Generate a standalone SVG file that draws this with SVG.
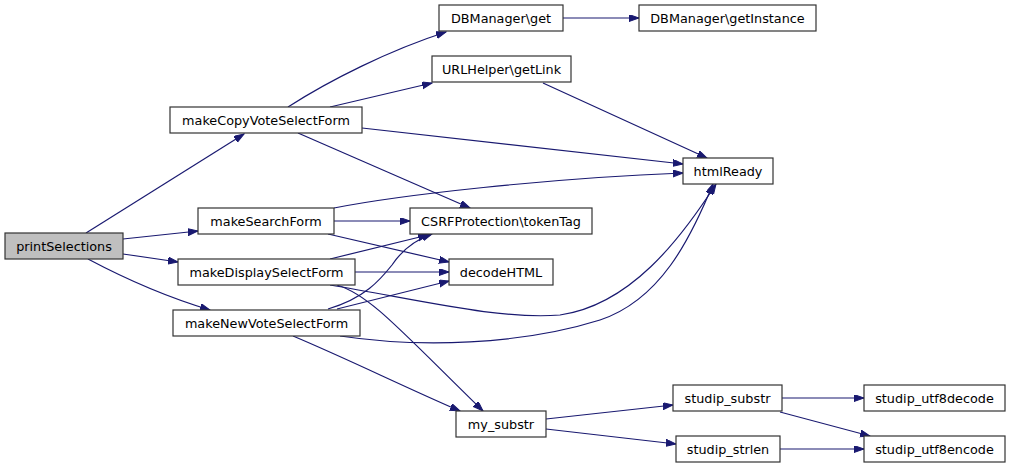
<svg xmlns="http://www.w3.org/2000/svg" width="1011" height="468" viewBox="0 0 1011 468">
<style>
.n rect{fill:#ffffff;stroke:#333333;stroke-width:1.2}
.n.root rect{fill:#bfbfbf}
.n text{font-family:"DejaVu Sans",sans-serif;font-size:12.8px;fill:#000000;text-anchor:middle}
#edges path{fill:none;stroke:#191970;stroke-width:1.2;marker-end:url(#arr)}
</style>
<defs>
<marker id="arr" markerUnits="userSpaceOnUse" markerWidth="11" markerHeight="8" refX="10" refY="3.5" orient="auto">
<path d="M0,0 L10,3.5 L0,7 z" fill="#191970" stroke="#191970" stroke-width="1"/>
</marker>
</defs>
<rect width="1011" height="468" fill="#ffffff"/>
<g id="edges">
<path d="M86,233 L244,134"/>
<path d="M123,239 L198,231"/>
<path d="M123,254 L178,262"/>
<path d="M88,259 C120,276 160,295 210,310"/>
<path d="M288,107 C330,80 390,50 446,32"/>
<path d="M330,107 L432,83"/>
<path d="M362,128 L683,164"/>
<path d="M298,133 L470,208"/>
<path d="M543,83 L707,158"/>
<path d="M563,18 L639,18"/>
<path d="M334,208 C400,195 550,178 683,173"/>
<path d="M334,221 L410,221"/>
<path d="M328,234 L449,262"/>
<path d="M330,259 L428,235"/>
<path d="M355,272 L449,272"/>
<path d="M330,285 C420,300 500,320 560,315 C630,305 680,240 716,184"/>
<path d="M337,285 C370,295 400,330 483,411"/>
<path d="M328,309 C365,298 380,280 392,265 C402,250 415,240 432,234"/>
<path d="M337,309 L449,281"/>
<path d="M340,336 C420,348 520,345 600,320 C660,300 690,240 713,184"/>
<path d="M293,336 C350,360 400,385 460,411"/>
<path d="M546,419 L673,405"/>
<path d="M546,429 L676,444"/>
<path d="M782,398 L864,398"/>
<path d="M780,412 L870,436"/>
<path d="M780,449 L864,449"/>
</g>
<g id="printSelections" class="n root"><rect x="5" y="233" width="118" height="26"/><text x="64" y="250.5">printSelections</text></g>
<g id="makeCopyVoteSelectForm" class="n"><rect x="170" y="107" width="192" height="26"/><text x="266" y="124.5">makeCopyVoteSelectForm</text></g>
<g id="makeSearchForm" class="n"><rect x="198" y="208" width="136" height="26"/><text x="266" y="225.5">makeSearchForm</text></g>
<g id="makeDisplaySelectForm" class="n"><rect x="178" y="259" width="177" height="26"/><text x="266.5" y="276.5">makeDisplaySelectForm</text></g>
<g id="makeNewVoteSelectForm" class="n"><rect x="173" y="310" width="187" height="26"/><text x="266.5" y="327.5">makeNewVoteSelectForm</text></g>
<g id="DBManager_get" class="n"><rect x="439" y="5" width="124" height="26"/><text x="501" y="22.5">DBManager\get</text></g>
<g id="DBManager_getInstance" class="n"><rect x="639" y="5" width="177" height="26"/><text x="727.5" y="22.5">DBManager\getInstance</text></g>
<g id="URLHelper_getLink" class="n"><rect x="432" y="56" width="139" height="26"/><text x="501.5" y="73.5">URLHelper\getLink</text></g>
<g id="htmlReady" class="n"><rect x="683" y="158" width="90" height="26"/><text x="728" y="175.5">htmlReady</text></g>
<g id="CSRFProtection_tokenTag" class="n"><rect x="410" y="208" width="182" height="26"/><text x="501" y="225.5">CSRFProtection\tokenTag</text></g>
<g id="decodeHTML" class="n"><rect x="449" y="259" width="104" height="26"/><text x="501" y="276.5">decodeHTML</text></g>
<g id="my_substr" class="n"><rect x="456" y="411" width="90" height="26"/><text x="501" y="428.5">my_substr</text></g>
<g id="studip_substr" class="n"><rect x="673" y="385" width="109" height="26"/><text x="727.5" y="402.5">studip_substr</text></g>
<g id="studip_strlen" class="n"><rect x="676" y="436" width="104" height="26"/><text x="728" y="453.5">studip_strlen</text></g>
<g id="studip_utf8decode" class="n"><rect x="864" y="385" width="141" height="26"/><text x="934.5" y="402.5">studip_utf8decode</text></g>
<g id="studip_utf8encode" class="n"><rect x="864" y="436" width="141" height="26"/><text x="934.5" y="453.5">studip_utf8encode</text></g>
</svg>
